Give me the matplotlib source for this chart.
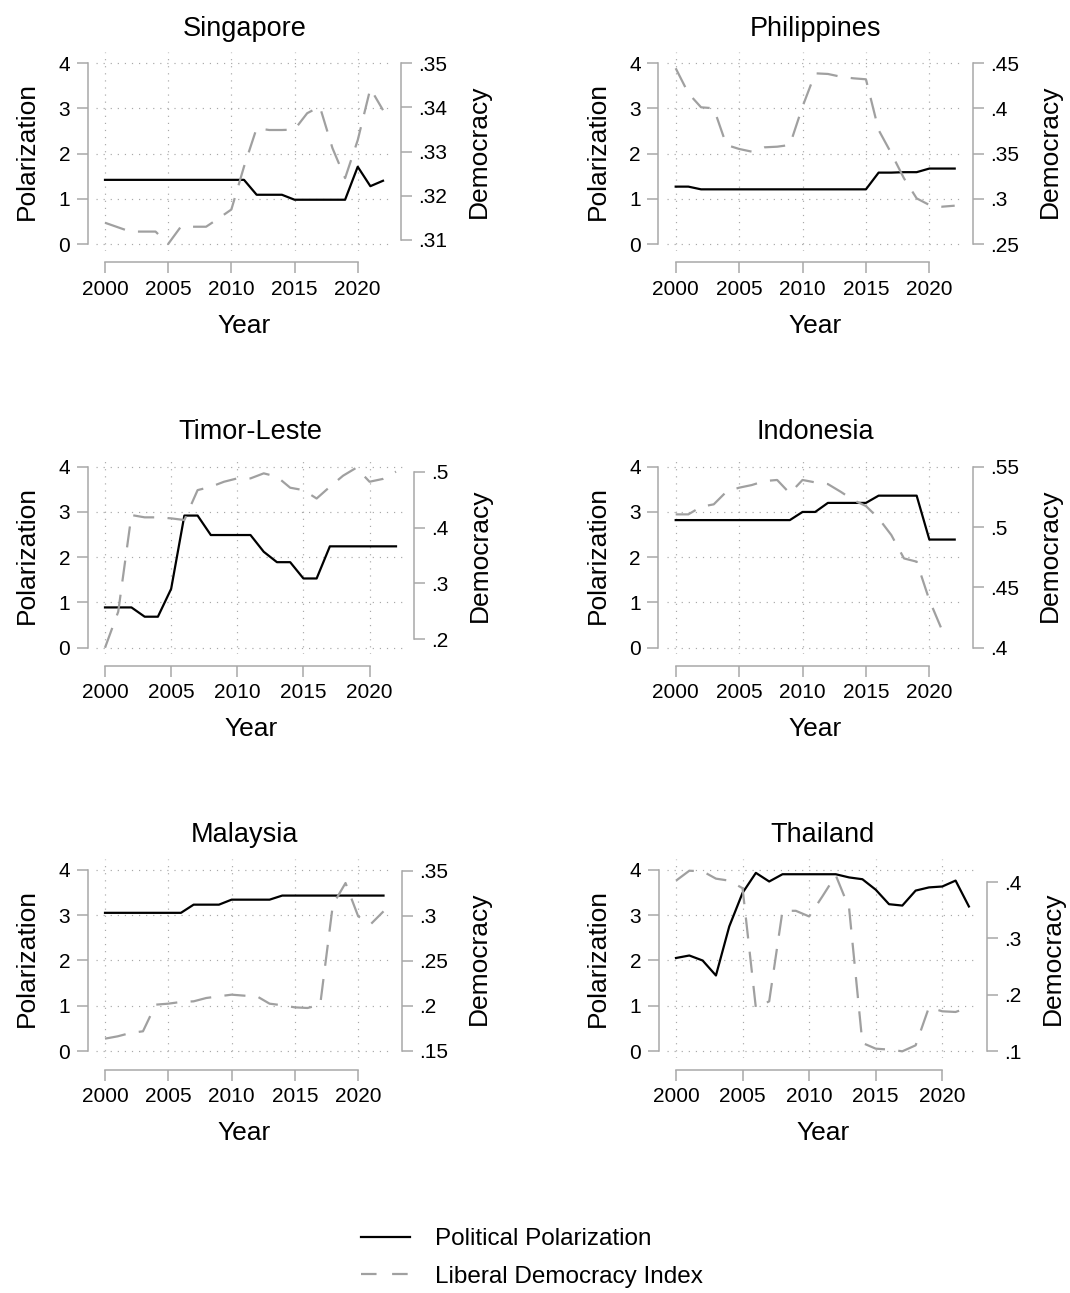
import numpy as np
import matplotlib
matplotlib.use("Agg")
import matplotlib.pyplot as plt
from matplotlib.lines import Line2D

plt.rcParams['font.family'] = ['Liberation Sans', 'DejaVu Sans']

years = np.arange(2000, 2023)

# polarization (left axis) and liberal democracy index (right axis)
sgp_pol = [1.42] * 12 + [1.09, 1.09, 1.09] + [0.98] * 5 + [1.71, 1.28, 1.40]
sgp_dem = [.3139, .3129, .3119, .3119, .3119, .3091, .3130, .3130, .3130, .3149, .3169, .3266,
           .3353, .3349, .3349, .3350, .3387, .3402, .3308, .3240, .3326, .3443, .3394]

phl_pol = [1.27, 1.27] + [1.21] * 14 + [1.58, 1.58, 1.59, 1.59, 1.67, 1.67, 1.67]
phl_dem = [.4445, .4168, .4013, .4002, .3596, .3552, .3522, .3570, .3577, .3596, .4020, .4389,
           .4382, .4352, .4334, .4323, .3762, .3504, .3227, .3005, .2932, .2913, .2924]

tls_pol = [.89, .89, .89, .685, .685, 1.30, 2.92, 2.92, 2.49, 2.49, 2.49, 2.49, 2.12, 1.89,
           1.89, 1.53, 1.53, 2.24, 2.24, 2.24, 2.24, 2.24, 2.24]
tls_dem = [.185, .2495, .4224, .4183, .4183, .4165, .4135, .467, .473, .482, .488, .488, .497,
           .491, .4713, .467, .452, .473, .4928, .507, .482, .487, .500]

idn_pol = [2.82] * 10 + [3.0, 3.0] + [3.2] * 4 + [3.36] * 4 + [2.39] * 3
idn_dem = [.5105, .5105, .5168, .5188, .5293, .5326, .5348, .5381, .5390, .5279, .5390, .5370,
           .5356, .5293, .5224, .5174, .5072, .4934, .4740, .4713, .4395, .4146, np.nan]

mys_pol = [3.05] * 7 + [3.23] * 3 + [3.34] * 4 + [3.43] * 9
mys_dem = [.1633, .1659, .1696, .1715, .2011, .2022, .2041, .2048, .2085, .2104, .2122, .2111,
           .2104, .2022, .2004, .1981, .1974, .2011, .3122, .3363, .2993, .2907, .3048]

tha_pol = [2.055, 2.11, 2.0, 1.67, 2.75, 3.49, 3.93, 3.74, 3.9, 3.9, 3.9, 3.9, 3.9, 3.83,
           3.79, 3.56, 3.24, 3.21, 3.54, 3.61, 3.63, 3.76, 3.19]
tha_dem = [.4024, .4200, .4190, .4060, .4024, .3890, .1768, .1886, .3490, .3490, .3390, .3747,
           .4119, .3540, .1148, .1047, .1030, .1000, .1106, .1780, .1709, .1697, .1780]

countries = ["Singapore", "Philippines", "Timor-Leste", "Indonesia", "Malaysia", "Thailand"]
pol = [sgp_pol, phl_pol, tls_pol, idn_pol, mys_pol, tha_pol]
dem = [sgp_dem, phl_dem, tls_dem, idn_dem, mys_dem, tha_dem]
dem_ticks = [[.31, .32, .33, .34, .35],
             [.25, .30, .35, .40, .45],
             [.2, .3, .4, .5],
             [.40, .45, .50, .55],
             [.15, .20, .25, .30, .35],
             [.1, .2, .3, .4]]
# right axis value at left 0 and slope per left unit
dem_scale = [(.30909, .010228), (.25, .05), (.1851, .08095),
             (.40, .0375), (.14926, .05046), (.10, .08046)]

# pixel geometry: x of 2000, x of 2022, y of 4, y of 0
geom = [(105, 383, 63.3, 244), (675.7, 954.7, 63.3, 244),
        (105, 396, 466.7, 647.7), (675.7, 954.7, 466.7, 647.7),
        (105, 383.5, 869.7, 1051.3), (676, 968.9, 869.7, 1051.3)]

W, H = 1070, 1293
XLO, XHI = 1999.3, 2022.75
YLO, YHI = -0.144, 4.243
SP = '#A8A8A8'
GRAY = '#A0A0A0'
PT = 0.72

fig = plt.figure(figsize=(W / 100, H / 100), dpi=100)

for i, name in enumerate(countries):
    x0, x22, y4, y0 = geom[i]
    ppy = (x22 - x0) / 22
    ppu = (y0 - y4) / 4
    left = x0 - (2000 - XLO) * ppy
    right = x22 + (XHI - 2022) * ppy
    top = y4 - (YHI - 4) * ppu
    bottom = y0 - YLO * ppu
    ax = fig.add_axes([left / W, 1 - bottom / H, (right - left) / W, (bottom - top) / H])
    ax.set_xlim(XLO, XHI)
    ax.set_ylim(YLO, YHI)
    ax.set_xticks([2000, 2005, 2010, 2015, 2020])
    ax.set_yticks([0, 1, 2, 3, 4])
    ax.grid(True, ls=(0, (1, 5)), color='#A8A8A8', lw=0.85)
    ax.set_axisbelow(True)
    for s in ['top', 'right']:
        ax.spines[s].set_visible(False)
    ax.spines['left'].set_position(('outward', (17.5 - (2000 - XLO) * ppy) * PT))
    ax.spines['bottom'].set_position(('outward', (18.3 + YLO * ppu) * PT))
    ax.spines['left'].set_bounds(0, 4)
    ax.spines['bottom'].set_bounds(2000, 2020)
    for s in ['left', 'bottom']:
        ax.spines[s].set_color(SP)
        ax.spines[s].set_linewidth(1.1)
    ax.tick_params(direction='out', length=7.6, width=1.1, color=SP, labelsize=15, pad=4.8)
    ax.plot(years, pol[i], color='black', lw=1.6, zorder=3)
    ax.set_title(name, fontsize=19.5, pad=12)
    ax.set_xlabel("Year", fontsize=19, labelpad=11)
    ax.set_ylabel("Polarization", fontsize=19, labelpad=14)

    a, b = dem_scale[i]
    ax2 = ax.twinx()
    ax2.set_ylim(a + b * YLO, a + b * YHI)
    for s in ['top', 'left', 'bottom']:
        ax2.spines[s].set_visible(False)
    ax2.spines['right'].set_position(('outward', (18 - (XHI - 2022) * ppy) * PT))
    ax2.spines['right'].set_bounds(dem_ticks[i][0], dem_ticks[i][-1])
    ax2.spines['right'].set_color(SP)
    ax2.spines['right'].set_linewidth(1.1)
    ax2.set_yticks(dem_ticks[i])
    ax2.set_yticklabels([f"{v:g}".lstrip('0') for v in dem_ticks[i]])
    ax2.tick_params(direction='out', length=7.6, width=1.1, color=SP, labelsize=15, pad=4.8)
    ax2.plot(years, dem[i], color=GRAY, lw=1.6, ls=(0, (9.5, 6)))
    ax2.set_ylabel("Democracy", fontsize=19, labelpad=14)

handles = [Line2D([], [], color='black', lw=1.6),
           Line2D([], [], color=GRAY, lw=1.6, ls=(0, (7, 7)))]
fig.legend(handles, ["Political Polarization", "Liberal Democracy Index"],
           loc='center', bbox_to_anchor=(532 / W, 1 - 1258 / H), frameon=False,
           fontsize=17.5, handlelength=2.0, handletextpad=1.05, labelspacing=0.62)

fig.savefig("out.png", dpi=100)
